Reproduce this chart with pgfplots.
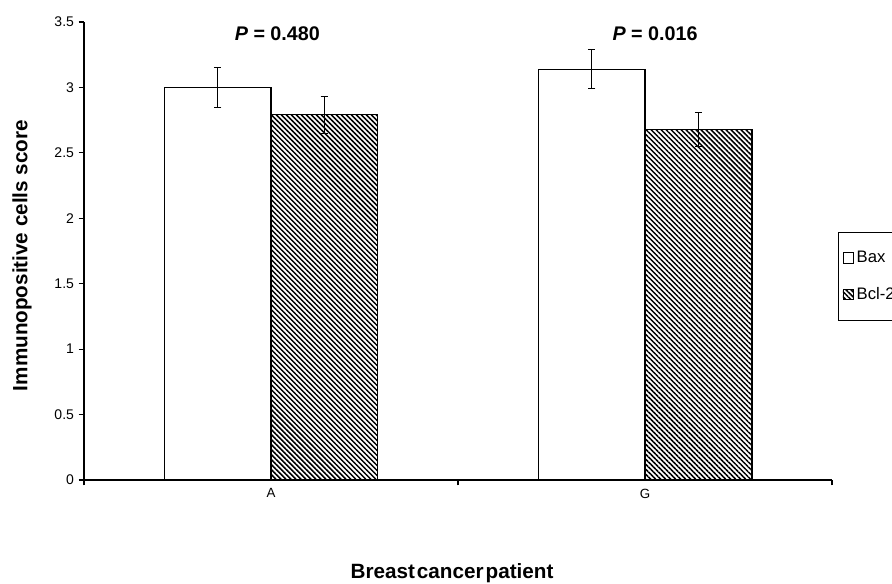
\documentclass[border=0pt]{standalone}
\usepackage{fontspec}
\setmainfont{Liberation Sans}
\usepackage{pgfplots}
\pgfplotsset{compat=1.18}
\usetikzlibrary{patterns.meta}
\begin{document}
\begin{tikzpicture}
\useasboundingbox (-63pt,-77.25pt) rectangle (606pt,360pt);
\clip (-63pt,-77.25pt) rectangle (606pt,360pt);
\begin{axis}[
  at={(0,0)}, anchor=south west,
  scale only axis, width=561pt, height=343.5pt,
  axis x line*=bottom, axis y line*=left,
  xmin=-0.5, xmax=1.5, ymin=0, ymax=3.5,
  xtick={-0.5,0.5,1.5}, xticklabels={},
  extra x ticks={0,1}, extra x tick labels={A,G},
  extra x tick style={major tick length=0pt, tick label style={font=\fontsize{10}{12}\selectfont, yshift=-3pt}},
  ytick={0,0.5,1,1.5,2,2.5,3,3.5},
  yticklabels={0,0.5,1,1.5,2,2.5,3,3.5},
  tick align=outside, major tick length=4pt,
  tick style={black, line width=0.8pt},
  axis line style={black, line width=0.8pt},
  yticklabel style={font=\fontsize{10.5}{12}\selectfont},
  ylabel={\bfseries Immunopositive cells score},
  ylabel style={at={(axis description cs:-0.083,0.49)}, anchor=center, font=\fontsize{15.5}{18}\selectfont},
  xlabel={\bfseries Breast\hspace{0.1em}cancer\hspace{0.1em}patient},
  xlabel style={at={(axis description cs:0.492,-0.203)}, anchor=center, font=\fontsize{15.5}{18}\selectfont},
  ybar=0pt, bar width=0.286,
  legend style={at={(1.008,0.5415)}, anchor=north west, draw=black, line width=0.8pt, fill=white,
    font=\fontsize{12.5}{14}\selectfont, row sep=13pt, inner ysep=12pt, inner xsep=3pt},
  legend cell align=left,
  legend image code/.code={\draw[#1, line width=0.6pt] (0pt,-4pt) rectangle (8pt,4pt);},
  clip=false,
]
\addplot[draw=black, fill=white, line width=0.8pt,
  error bars/.cd, y dir=both, y explicit, error bar style={black, line width=0.8pt},
  error mark options={rotate=90, mark size=2.8pt, black, line width=0.8pt}]
  coordinates {(0,3.00) +- (0,0.15) (1,3.14) +- (0,0.15)};
\addlegendentry{Bax}
\addplot[draw=black, line width=0.8pt, pattern={Lines[angle=-45,distance=2.65pt,line width=1.1pt]},
  error bars/.cd, y dir=both, y explicit, error bar style={black, line width=0.8pt},
  error mark options={rotate=90, mark size=2.8pt, black, line width=0.8pt}]
  coordinates {(0,2.79) +- (0,0.14) (1,2.68) +- (0,0.13)};
\addlegendentry{Bcl-2}
\node[font=\fontsize{14.8}{17}\selectfont\bfseries] at (axis cs:0.017,3.41) {\textit{P} = 0.480};
\node[font=\fontsize{14.8}{17}\selectfont\bfseries] at (axis cs:1.027,3.41) {\textit{P} = 0.016};
\end{axis}
\end{tikzpicture}
\end{document}
